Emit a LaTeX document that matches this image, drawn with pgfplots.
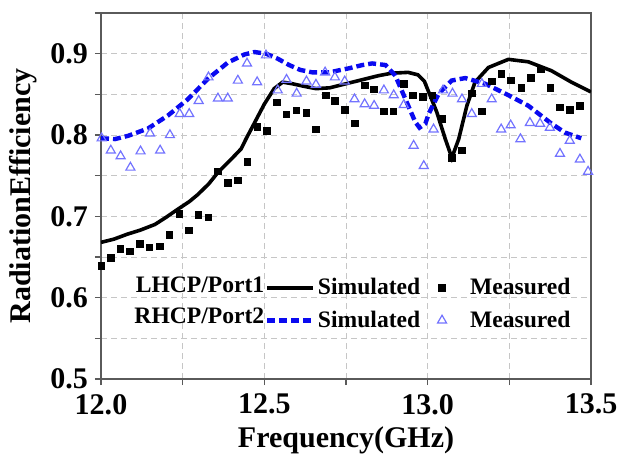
\documentclass[border=0pt]{standalone}
\usepackage{pgfplots}
\pgfplotsset{compat=1.18}
\usepackage{fontspec}
\setmainfont{Liberation Serif}
\definecolor{simblue}{RGB}{10,10,240}
\definecolor{measblue}{RGB}{115,115,255}
\definecolor{axisgray}{RGB}{90,90,90}

% legend samples: a longer line for the simulated curves, a single centred mark for the measurements
\pgfplotsset{
  longline/.style={legend image code/.code={\draw[##1] (0cm,0cm) -- (0.8cm,0cm);}},
  onemark/.style={legend image code/.code={%
      \path[draw=none, fill=none] (0cm,0cm) -- (0.77cm,0cm);
      \draw[##1, draw=none] plot coordinates {(0.33cm,0cm)};}},
}

% Simulated and measured radiation efficiency, LHCP (port 1) and RHCP (port 2)
\pgfplotstableread{
x y
12.000 0.668
12.040 0.672
12.080 0.678
12.120 0.683
12.165 0.690
12.200 0.699
12.236 0.709
12.270 0.718
12.297 0.727
12.330 0.740
12.358 0.754
12.398 0.770
12.429 0.783
12.445 0.796
12.470 0.815
12.500 0.838
12.530 0.857
12.556 0.865
12.586 0.863
12.620 0.860
12.658 0.857
12.700 0.858
12.730 0.861
12.770 0.865
12.810 0.869
12.850 0.873
12.890 0.876
12.940 0.877
12.970 0.874
12.990 0.866
13.003 0.853
13.028 0.828
13.054 0.795
13.074 0.772
13.095 0.795
13.120 0.836
13.145 0.865
13.186 0.883
13.247 0.893
13.308 0.890
13.379 0.879
13.440 0.865
13.500 0.853
}\lhcpsim

\pgfplotstableread{
x y
12.002 0.639
12.030 0.649
12.059 0.660
12.089 0.657
12.119 0.666
12.149 0.662
12.180 0.663
12.210 0.677
12.240 0.703
12.269 0.683
12.299 0.702
12.328 0.699
12.358 0.755
12.388 0.741
12.419 0.744
12.449 0.767
12.478 0.810
12.508 0.805
12.539 0.840
12.568 0.825
12.599 0.830
12.629 0.827
12.658 0.807
12.688 0.849
12.716 0.842
12.747 0.831
12.777 0.814
12.808 0.861
12.836 0.856
12.866 0.829
12.896 0.829
12.927 0.863
12.955 0.849
12.985 0.847
13.015 0.849
13.044 0.820
13.074 0.772
13.105 0.781
13.135 0.851
13.166 0.829
13.196 0.866
13.225 0.875
13.255 0.867
13.286 0.858
13.316 0.870
13.347 0.881
13.375 0.858
13.405 0.834
13.435 0.831
13.466 0.836
}\lhcpmeas

\pgfplotstableread{
x y
12.000 0.796
12.043 0.795
12.083 0.799
12.144 0.808
12.205 0.824
12.266 0.844
12.327 0.869
12.388 0.889
12.439 0.899
12.470 0.902
12.505 0.900
12.540 0.894
12.576 0.886
12.610 0.880
12.647 0.877
12.698 0.877
12.759 0.882
12.800 0.886
12.830 0.888
12.871 0.886
12.901 0.873
12.932 0.844
12.962 0.816
12.975 0.809
12.993 0.814
13.003 0.826
13.034 0.851
13.074 0.867
13.115 0.870
13.176 0.863
13.247 0.849
13.308 0.836
13.379 0.814
13.420 0.803
13.470 0.796
}\rhcpsim

\pgfplotstableread{
x y
12.002 0.796
12.030 0.781
12.060 0.774
12.090 0.760
12.121 0.780
12.150 0.802
12.181 0.781
12.211 0.800
12.241 0.826
12.270 0.826
12.299 0.842
12.329 0.871
12.358 0.845
12.388 0.845
12.419 0.867
12.447 0.888
12.478 0.865
12.505 0.898
12.541 0.855
12.568 0.868
12.599 0.851
12.629 0.866
12.658 0.862
12.686 0.877
12.716 0.871
12.746 0.866
12.776 0.844
12.807 0.838
12.836 0.836
12.866 0.855
12.896 0.849
12.927 0.837
12.957 0.787
12.988 0.762
13.018 0.807
13.047 0.855
13.076 0.851
13.105 0.844
13.135 0.826
13.166 0.863
13.196 0.844
13.225 0.807
13.254 0.812
13.284 0.795
13.313 0.815
13.344 0.814
13.374 0.809
13.405 0.777
13.435 0.793
13.466 0.770
13.491 0.755
}\rhcpmeas

\begin{document}
\begin{tikzpicture}
\begin{axis}[
  scale only axis,
  width=245pt, height=183pt,
  xmin=12, xmax=13.5, ymin=0.5, ymax=0.95,
  xtick={12,12.5,13,13.5},
  minor xtick={12.25,12.75,13.25},
  ytick={0.5,0.6,0.7,0.8,0.9},
  minor ytick={0.55,0.65,0.75,0.85,0.95},
  grid=both,
  major grid style={densely dashed, gray!45, line width=0.5pt},
  minor grid style={densely dashed, gray!45, line width=0.5pt},
  tick pos=left, tick align=outside,
  major tick length=3pt, minor tick length=3pt,
  every tick/.style={axisgray, line width=0.7pt},
  axis line style={axisgray, line width=0.9pt},
  /pgf/number format/assume math mode=true,
  /pgf/number format/.cd, fixed, fixed zerofill, precision=1, /pgfplots/.cd,
  ticklabel style={font=\bfseries\fontsize{15}{15}\selectfont},
  xticklabel style={yshift=-1pt},
  label style={font=\bfseries\fontsize{15}{15}\selectfont},
  xlabel={Frequency(GHz)},
  ylabel={RadiationEfficiency},
  xlabel style={yshift=0.5pt},
  legend columns=2,
  legend cell align=left,
  legend style={
    at={(rel axis cs:0.334,0.287)}, anchor=north west,
    draw=none, fill=none, inner sep=0pt,
    nodes={inner xsep=1.5pt},
    font=\bfseries\fontsize{11.8}{12}\selectfont,
    row sep=2.5pt,
    /tikz/every even column/.append style={column sep=0pt},
  },
]
\addplot[black, line width=1.8pt, longline]
  table {\lhcpsim};
\addlegendentry{Simulated}
\addplot[only marks, mark=square*, mark size=1.6pt, black, onemark]
  table {\lhcpmeas};
\addlegendentry{Measured}
\addplot[simblue, line width=2.2pt, dash pattern=on 4pt off 2pt, longline]
  table {\rhcpsim};
\addlegendentry{Simulated}
\addplot[only marks, mark=triangle, mark size=2.6pt, measblue,
  mark options={line width=0.6pt}, onemark]
  table {\rhcpmeas};
\addlegendentry{Measured}

\node[anchor=east, inner sep=0pt, font=\bfseries\fontsize{11.8}{12}\selectfont]
  at (rel axis cs:0.334,0.257) {LHCP/Port1};
\node[anchor=east, inner sep=0pt, font=\bfseries\fontsize{11.8}{12}\selectfont]
  at (rel axis cs:0.334,0.172) {RHCP/Port2};
\end{axis}
% page margins around the axis box
\pgfresetboundingbox
\path[use as bounding box]
  ([xshift=-50.5pt,yshift=-38pt]current axis.south west)
  rectangle ([xshift=14.5pt,yshift=6.5pt]current axis.north east);
\end{tikzpicture}
\end{document}
